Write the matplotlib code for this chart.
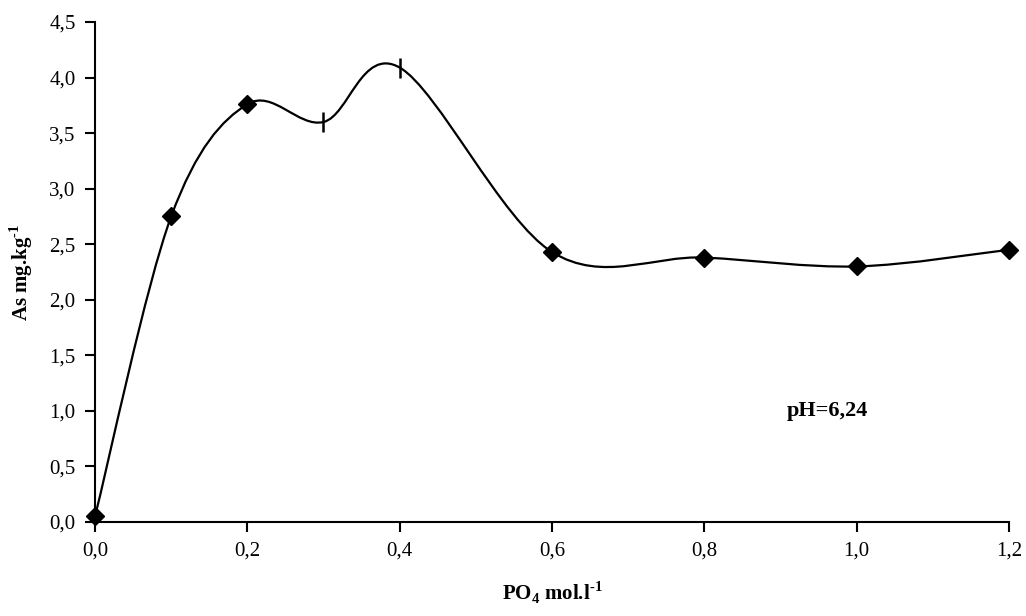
import numpy as np
import matplotlib
matplotlib.use('Agg')
import matplotlib.pyplot as plt
from matplotlib.path import Path
from matplotlib.patches import PathPatch
from matplotlib.ticker import FuncFormatter, MultipleLocator

# PO4 concentration (mol/l) and sorbed As (mg/kg)
po4 = [0.0, 0.1, 0.2, 0.3, 0.4, 0.6, 0.8, 1.0, 1.2]
arsenic = [0.05, 2.75, 3.76, 3.60, 4.09, 2.43, 2.38, 2.30, 2.45]
diamond_idx = [0, 1, 2, 5, 6, 7, 8]
bar_idx = [3, 4]
ph_label = 'pH=6,24'

plt.rcParams['font.family'] = ['Liberation Serif', 'DejaVu Serif']
plt.rcParams['mathtext.fontset'] = 'custom'
plt.rcParams['mathtext.rm'] = 'Liberation Serif'
plt.rcParams['mathtext.bf'] = 'Liberation Serif:bold'


def smooth_path(xs, ys):
    """ Excel-like smoothed line: Catmull-Rom segments as cubic beziers """
    pts = np.column_stack([xs, ys])
    n = len(pts)
    verts = [pts[0]]
    codes = [Path.MOVETO]
    for i in range(n - 1):
        p0 = pts[i - 1] if i > 0 else pts[i]
        p1 = pts[i]
        p2 = pts[i + 1]
        p3 = pts[i + 2] if i + 2 < n else pts[i + 1]
        c1 = p1 + (p2 - p0) / 6.0
        c2 = p2 - (p3 - p1) / 6.0
        verts += [c1, c2, p2]
        codes += [Path.CURVE4] * 3
    return Path(verts, codes)


def comma_fmt(v, pos):
    return '{:.1f}'.format(v).replace('.', ',')


fig = plt.figure(figsize=(10.26, 6.16), dpi=100)
ax = fig.add_axes([0.0926, 0.1526, 0.8908, 0.8117])

ax.add_patch(PathPatch(smooth_path(po4, arsenic), facecolor='none',
                       edgecolor='black', lw=1.6, zorder=2))
ax.plot([po4[i] for i in diamond_idx], [arsenic[i] for i in diamond_idx],
        linestyle='none', marker='D', ms=9.5, color='black', zorder=3, clip_on=False)
ax.plot([po4[i] for i in bar_idx], [arsenic[i] for i in bar_idx],
        linestyle='none', marker='|', ms=14, mew=1.8, color='black', zorder=3)

ax.set_xlim(0, 1.2)
ax.set_ylim(0, 4.5)
ax.xaxis.set_major_locator(MultipleLocator(0.2))
ax.yaxis.set_major_locator(MultipleLocator(0.5))
ax.xaxis.set_major_formatter(FuncFormatter(comma_fmt))
ax.yaxis.set_major_formatter(FuncFormatter(comma_fmt))

for s in ['top', 'right']:
    ax.spines[s].set_visible(False)
for s in ['left', 'bottom']:
    ax.spines[s].set_linewidth(1.5)
ax.tick_params(direction='out', length=7, width=1.5, labelsize=15, pad=7)

ax.set_xlabel(r'PO$_{\mathbf{4}}$ mol.l$^{\mathbf{\text{-}1}}$', fontsize=15,
              fontweight='bold', labelpad=14)
ax.set_ylabel(r'As mg.kg$^{\mathbf{\text{-}1}}$', fontsize=15,
              fontweight='bold', labelpad=10)
ax.text(0.962, 1.0, ph_label, fontsize=16, fontweight='bold', ha='center', va='center')

fig.savefig('out.png', dpi=100)
